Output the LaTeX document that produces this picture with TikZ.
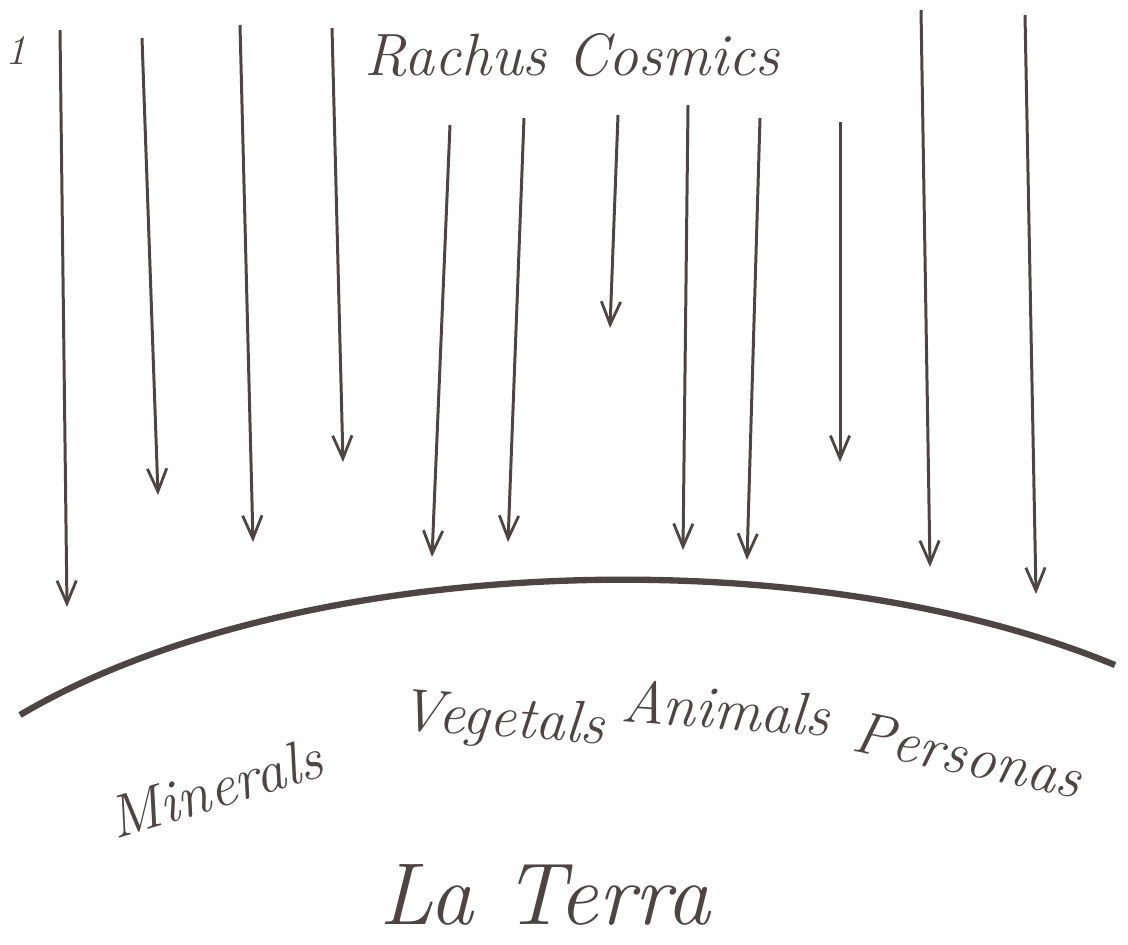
\documentclass[tikz,border=0pt]{standalone}
\usepackage{tikz}
\usetikzlibrary{arrows.meta}

\definecolor{ink}{HTML}{4D4445}

\begin{document}
\begin{tikzpicture}[x=0.02cm,y=-0.02cm,
    ray/.style={ink,line width=1.7pt,-{Straight Barb[length=13pt,width=11pt,line width=1.6pt]}},
    hand/.style={ink,font=\fontsize{34}{38}\selectfont\itshape},
]
            \useasboundingbox (0,0) rectangle (1128,944);

            \node[ink,font=\fontsize{24}{28}\selectfont\itshape] (num) at (16,50) {1};
            \node[hand] (rachus) at (572,55) {Rachus Cosmics};

            % the cosmic rays
            \draw[ray] (60,30) -- (67,607);
            \draw[ray] (142,38) -- (158,495);
            \draw[ray] (240,25) -- (253,542);
            \draw[ray] (332,28) -- (343,462);
            \draw[ray] (450,125) -- (432,557);
            \draw[ray] (524,118) -- (508,542);
            \draw[ray] (618,115) -- (610,328);
            \draw[ray] (688,105) -- (683,550);
            \draw[ray] (760,118) -- (747,560);
            \draw[ray] (840,122) -- (840,462);
            \draw[ray] (921,10) -- (930,567);
            \draw[ray] (1025,15) -- (1036,594);

            % the earth
            \draw[ink,line width=3.6pt] (20,715) .. controls (290,555) and (800,535) .. (1115,665);

            \node[hand,rotate=17] (minerals) at (215,788) {Minerals};
            \node[hand,rotate=-4] (vegetals) at (502,722) {Vegetals};
            \node[hand,rotate=-4] (animals) at (726,708) {Animals};
            \node[hand,rotate=-12] (personas) at (968,755) {Personas};
            \node[ink,font=\fontsize{50}{56}\selectfont\itshape] (terra) at (545,895) {La Terra};
\end{tikzpicture}
\end{document}
